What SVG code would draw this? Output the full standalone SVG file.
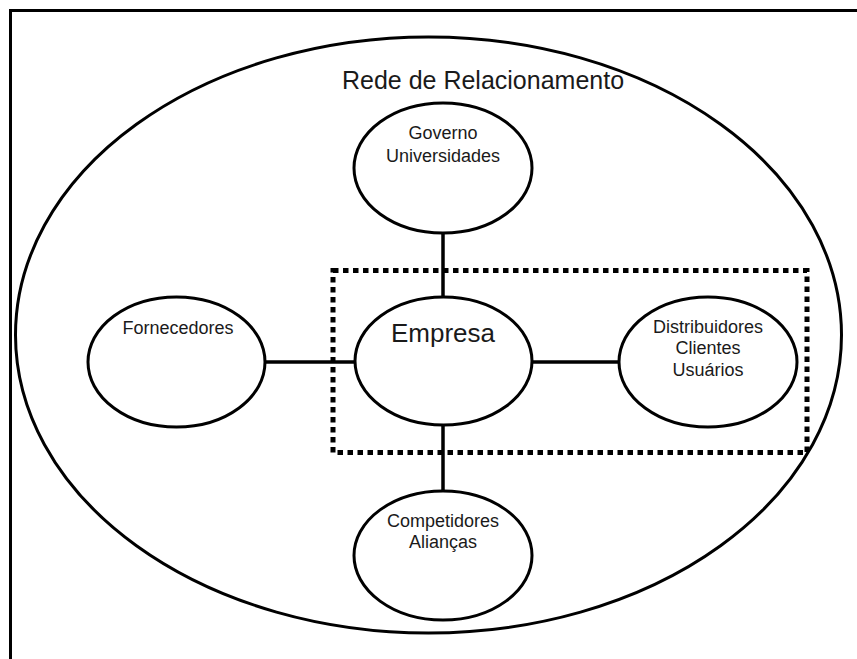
<svg xmlns="http://www.w3.org/2000/svg" width="857" height="659" viewBox="0 0 857 659">
<style>
.node{fill:#fff;stroke:#000;stroke-width:3}
.conn{stroke:#000;stroke-width:3.5;fill:none}
.t{font-family:"Liberation Sans",Arial,sans-serif;fill:#1a1a1a;text-anchor:middle}
.s{font-size:18px}
</style>
<rect x="0" y="0" width="857" height="659" fill="#fff"/>
<rect x="10.5" y="10.5" width="900" height="700" fill="none" stroke="#000" stroke-width="3"/>
<g id="rede">
<ellipse cx="428.5" cy="335" rx="413" ry="298" fill="none" stroke="#000" stroke-width="3"/>
<text class="t" x="483" y="89" font-size="25">Rede de Relacionamento</text>
</g>
<g id="connectors">
<line class="conn" x1="443" y1="233" x2="443" y2="297"/>
<line class="conn" x1="443" y1="425" x2="443" y2="491"/>
<line class="conn" x1="265" y1="362" x2="355" y2="362"/>
<line class="conn" x1="532" y1="362" x2="619" y2="362"/>
</g>
<g id="governo">
<ellipse class="node" cx="443" cy="168" rx="89" ry="65"/>
<text class="t s" x="443" y="139">Governo</text>
<text class="t s" x="443" y="161.5">Universidades</text>
</g>
<g id="fornecedores">
<ellipse class="node" cx="176.5" cy="362" rx="88.5" ry="65"/>
<text class="t s" x="178" y="334">Fornecedores</text>
</g>
<g id="empresa">
<ellipse class="node" cx="443.5" cy="361" rx="88.5" ry="64"/>
<text class="t" x="443" y="342" font-size="26">Empresa</text>
</g>
<g id="distribuidores">
<ellipse class="node" cx="708" cy="362" rx="89" ry="65"/>
<text class="t s" x="708" y="333">Distribuidores</text>
<text class="t s" x="708" y="354">Clientes</text>
<text class="t s" x="708" y="375.5">Usuários</text>
</g>
<g id="competidores">
<ellipse class="node" cx="443" cy="555.5" rx="89" ry="64.5"/>
<text class="t s" x="443" y="527">Competidores</text>
<text class="t s" x="443" y="548">Alianças</text>
</g>
<g id="grupo">
<rect x="333" y="270.5" width="474" height="182" fill="none" stroke="#000" stroke-width="5" stroke-dasharray="5.5 4.5"/>
</g>
</svg>
